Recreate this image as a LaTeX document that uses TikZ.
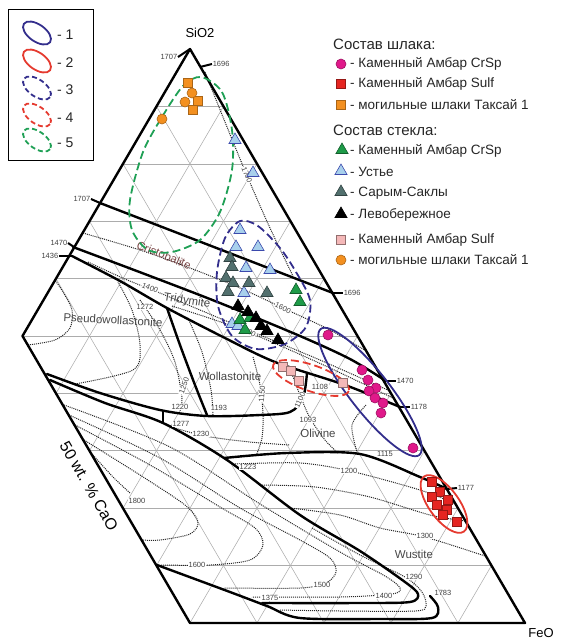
\documentclass[tikz,border=0pt]{standalone}
\usepackage{fontspec}
\setmainfont{Liberation Sans}
\usetikzlibrary{shapes.geometric}

\definecolor{ellblue}{HTML}{332E8C}
\definecolor{ellred}{HTML}{E53A2F}
\definecolor{ellgreen}{HTML}{1FA055}
\definecolor{crspmag}{HTML}{E0198A}
\definecolor{sulfred}{HTML}{E52521}
\definecolor{taksor}{HTML}{F39020}
\definecolor{glgreen}{HTML}{1E9B48}
\definecolor{ustblue}{HTML}{A8D0EC}
\definecolor{sarslate}{HTML}{52706E}
\definecolor{sulfpink}{HTML}{F4B8B8}
\definecolor{cristo}{HTML}{7A4646}

\def\fsz#1{\fontsize{#1}{#1}\selectfont}

\tikzset{
	gridline/.style={gray!65,line width=0.55pt},
	bound/.style={line width=2.4pt,line join=round,line cap=round},
	iso/.style={densely dotted,line width=1pt,black!85},
	numtick/.style={line width=2pt},
	num/.style={font=\fsz{7.5},text=black!75,inner sep=0.6pt,fill=white},
	phase/.style={font=\fsz{11.5},text=black!72,inner sep=1pt},
	legtext/.style={font=\fsz{13.5},text=black!85,anchor=west,inner sep=0pt},
	legtitle/.style={font=\fsz{15},text=black!85,anchor=west,inner sep=0pt},
	mk/.style={inner sep=0pt,line width=0.6pt},
	mgc/.style={mk,circle,minimum size=10pt,fill=crspmag,draw=crspmag!70!black},
	rsq/.style={mk,rectangle,minimum size=9.5pt,fill=sulfred,draw=sulfred!65!black},
	osq/.style={mk,rectangle,minimum size=9.5pt,fill=taksor,draw=taksor!70!black},
	ocirc/.style={mk,circle,minimum size=10pt,fill=taksor,draw=taksor!70!black},
	pksq/.style={mk,rectangle,minimum size=9.5pt,fill=sulfpink,draw=sulfpink!60!black},
	tri/.style={mk,regular polygon,regular polygon sides=3,minimum size=14pt},
	gtri/.style={tri,fill=glgreen,draw=glgreen!60!black},
	btri/.style={tri,fill=ustblue,draw=ustblue!50!blue!70!black},
	stri/.style={tri,fill=sarslate,draw=sarslate!60!black},
	ktri/.style={tri,fill=black,draw=black},
	ellsolid/.style={line width=1.8pt},
	elldash/.style={line width=1.8pt,dash pattern=on 8pt off 4pt},
	legdash/.style={line width=1.8pt,dash pattern=on 5pt off 3pt}
}

\begin{document}
\begin{tikzpicture}[x=1pt,y=-1pt]
	\useasboundingbox (0,0) rectangle (561,641);
	%CORNERS
	\coordinate (A) at (190,49);
	\coordinate (B) at (525,623);
	\coordinate (C) at (-145,623);
	\coordinate (BC) at (barycentric cs:B=1,C=1);
	\coordinate (L) at (barycentric cs:A=1,C=1);
	
	%GRID
	\begin{scope}
		\clip (A) -- (B) -- (BC) -- (L) -- cycle;
		\foreach \i [evaluate=\i as \j using int(10-\i)] in {1,...,9} {
			\draw[gridline] (barycentric cs:A=\i,B=\j) -- (barycentric cs:A=\i,C=\j);
			\draw[gridline] (barycentric cs:B=\i,A=\j) -- (barycentric cs:B=\i,C=\j);
			\draw[gridline] (barycentric cs:C=\i,A=\j) -- (barycentric cs:C=\i,B=\j);
		}
	\end{scope}
	
	%ISOTHERMS
	\draw[iso] plot[smooth] coordinates {(205,72) (225,122) (248,178) (270,228) (293,276)};
	\draw[iso] plot[smooth] coordinates {(83,233) (140,250) (190,268) (240,288) (283,308) (330,330) (368,352)};
	\draw[iso] plot[smooth] coordinates {(88,262) (125,279) (160,293) (200,310) (260,335) (320,360) (390,391)};
	\draw[iso] plot[smooth] coordinates {(172,306) (215,320) (248,332) (290,350) (330,368) (395,399)};
	\draw[iso] plot[smooth] coordinates {(28,345) (55,340) (70,328) (72,310) (63,292) (55,280)};
	\draw[iso] plot[smooth] coordinates {(75,384) (133,370) (140,345) (132,310) (118,282)};
	\draw[iso] plot[smooth] coordinates {(140,300) (160,330) (175,362) (182,398) (180,411)};
	\draw[iso] plot[smooth] coordinates {(188,318) (202,352) (211,390) (213,415)};
	\draw[iso] plot[smooth] coordinates {(253,357) (260,385) (263,414) (262,438) (256,456)};
	\draw[iso] plot[smooth] coordinates {(292,374) (300,395) (310,418) (325,440) (338,453)};
	\draw[iso] plot[smooth] coordinates {(366,405) (352,425) (357,452)};
	\draw[iso] plot[smooth] coordinates {(168,426) (205,436) (250,442) (290,445)};
	\draw[iso] plot[smooth] coordinates {(235,464) (300,463) (350,471) (420,490) (456,504)};
	\draw[iso] plot[smooth] coordinates {(262,485) (315,487) (370,497) (430,515) (465,521)};
	\draw[iso] plot[smooth] coordinates {(290,508) (340,515) (380,528) (425,537) (485,556)};
	\draw[iso] plot[smooth] coordinates {(312,528) (360,555) (405,577) (422,592) (426,606) (415,611) (340,611) (280,610)};
	\draw[iso] plot[smooth] coordinates {(93,455) (113,477) (130,493)};
	\draw[iso] plot[smooth] coordinates {(84,440) (140,475) (185,505) (198,522) (190,534) (160,540) (142,540)};
	\draw[iso] plot[smooth] coordinates {(75,425) (150,465) (220,507) (255,528) (263,545) (250,560) (210,565) (160,565)};
	\draw[iso] plot[smooth] coordinates {(69,415) (160,458) (240,508) (300,540) (330,558) (336,572) (326,583) (300,588) (224,588)};
	\draw[iso] plot[smooth] coordinates {(64,405) (170,447) (260,504) (340,552) (385,576) (400,588) (392,594) (340,597) (252,597)};
	
	%BOUNDARIES
	\draw[bound] (A) -- (B) -- (BC) -- (L) -- cycle;
	\draw[bound] (100,203) -- (333,293);
	\draw[bound] plot[smooth] coordinates {(73,247) (150,276) (220,303) (300,336) (350,359) (386,381)};
	\draw[bound] plot[smooth] coordinates {(72,256) (120,281) (167,308) (225,338) (275,362) (345,385) (400,407)};
	\draw[bound] plot[smooth] coordinates {(167,308) (180,345) (195,385) (207,415)};
	\draw[bound] plot[smooth] coordinates {(47,374) (100,393) (160,410) (207,416) (260,415) (290,412) (303,398) (307,373)};
	\draw[bound] (163,411) -- (163,423);
	\draw[bound] plot[smooth] coordinates {(50,380) (105,403) (163,423) (227,460) (300,515) (360,551) (405,582) (418,594) (410,602) (360,603) (262,603)};
	\draw[bound] plot[smooth] coordinates {(224,458) (287,453) (360,454) (420,477) (447,489)};
	\draw[bound] plot[smooth] coordinates {(157,565) (230,592) (267,606) (300,618) (380,619) (432,618) (438,607) (430,596)};
	
	%TICKS
	\coordinate (eA) at (A);
	\coordinate (eTop) at (200,67);
	\coordinate (e1707) at (100,203);
	\coordinate (e1470) at (74,247);
	\coordinate (e1436) at (72,256);
	\coordinate (e1696) at (333,293);
	\coordinate (e1470r) at (386,381);
	\coordinate (e1178) at (400,407);
	\coordinate (e1177) at (447,489);
	\node[num,anchor=east,fill=none] (t1707a) at (178,57) {1707};
	\node[num,anchor=west,fill=none] (t1696a) at (212,64) {1696};
	\node[num,anchor=east,fill=none] (t1707) at (91,199) {1707};
	\node[num,anchor=east,fill=none] (t1470) at (68,243) {1470};
	\node[num,anchor=east,fill=none] (t1436) at (59,256) {1436};
	\node[num,anchor=west,fill=none] (t1696) at (343,293) {1696};
	\node[num,anchor=west,fill=none] (t1470r) at (396,381) {1470};
	\node[num,anchor=west,fill=none] (t1178) at (410,407) {1178};
	\node[num,anchor=west,fill=none] (t1177) at (457,488) {1177};
	\draw[numtick] (t1707a.east) -- (eA);
	\draw[numtick] (eTop) -- (t1696a.west);
	\draw[numtick] (t1707.east) -- (e1707);
	\draw[numtick] (t1470.east) -- (e1470);
	\draw[numtick] (t1436.east) -- (e1436);
	\draw[numtick] (e1696) -- (t1696.west);
	\draw[numtick] (e1470r) -- (t1470r.west);
	\draw[numtick] (e1178) -- (t1178.west);
	\draw[numtick] (e1177) -- (t1177.west);
	
	%ISOTHERM LABELS
	\node[num,rotate=-68] (i1700) at (247,175) {1700};
	\node[num,rotate=-25] (i1600a) at (283,308) {1600};
	\node[num,rotate=-22] (i1400a) at (150,288) {1400};
	\node[num] (i1272) at (145,307) {1272};
	\node[num,rotate=-28] (i1200a) at (248,331) {1200};
	\node[num,rotate=70] (i1250) at (184,386) {1250};
	\node[num,rotate=85] (i1150) at (262,394) {1150};
	\node[num,rotate=65] (i1100) at (300,400) {1100};
	\node[num] (i1108) at (320,387) {1108};
	\node[num] (i1220) at (180,407) {1220};
	\node[num] (i1193) at (219,408) {1193};
	\node[num] (i1277) at (181,424) {1277};
	\node[num] (i1230) at (201,434) {1230};
	\node[num] (i1093) at (308,420) {1093};
	\node[num] (i1115) at (385,454) {1115};
	\node[num] (i1223) at (248,467) {1223};
	\node[num] (i1200b) at (349,471) {1200};
	\node[num] (i1800) at (137,501) {1800};
	\node[num] (i1600b) at (197,565) {1600};
	\node[num] (i1300) at (425,536) {1300};
	\node[num] (i1290) at (414,577) {1290};
	\node[num] (i1500) at (322,585) {1500};
	\node[num] (i1400b) at (384,596) {1400};
	\node[num] (i1375) at (270,598) {1375};
	\node[num,fill=none] (i1783) at (443,593) {1783};
	
	%PHASES
	\node[phase,rotate=-22,text=cristo] (cristob) at (164,255) {Cristobalite};
	\node[phase,rotate=-9] (tridy) at (187,301) {Tridymite};
	\node[phase,rotate=-3] (pseudo) at (113,320) {Pseudowollastonite};
	\node[phase] (wolla) at (230,376) {Wollastonite};
	\node[phase] (olivi) at (318,433) {Olivine};
	\node[phase] (wusti) at (414,554) {Wustite};
	
	%ELLIPSES
	\draw[elldash,ellgreen] plot[smooth cycle] coordinates {(201,77) (222,92) (232,130) (232,170) (220,212) (200,240) (172,252) (148,250) (132,230) (130,200) (143,152) (162,117) (183,86)};
	\draw[elldash,ellblue] plot[smooth cycle] coordinates {(240,221) (258,226) (280,248) (296,272) (310,300) (306,327) (285,344) (256,349) (232,336) (218,306) (217,272) (225,238)};
	\draw[ellsolid,ellblue] (370,392) circle[x radius=80,y radius=20,rotate=-52];
	\draw[elldash,ellred] (311,378) circle[x radius=40,y radius=13,rotate=-19];
	\draw[ellsolid,ellred] (444,504) circle[x radius=34,y radius=15,rotate=-54];
	
	%POINTS
	\foreach \p [count=\k] in {(188,83),(198,101),(193,110)} \node[osq] (os\k) at \p {};
	\foreach \p [count=\k] in {(192,93),(185,102),(162,119)} \node[ocirc] (oc\k) at \p {};
	\foreach \p [count=\k] in {(235,140),(253,173),(240,230),(236,247),(258,247),(246,268),(270,270),(244,293),(232,324),(238,326)} \node[btri] (bt\k) at \p {};
	\foreach \p [count=\k] in {(230,258),(232,267),(226,278),(233,283),(249,283),(228,292),(267,293)} \node[stri] (st\k) at \p {};
	\foreach \p [count=\k] in {(296,290),(300,302),(240,320),(245,330),(250,318)} \node[gtri] (gt\k) at \p {};
	\foreach \p [count=\k] in {(238,306),(248,312),(256,318),(261,326),(267,331),(278,340)} \node[ktri] (kt\k) at \p {};
	\foreach \p [count=\k] in {(328,335),(362,370),(368,380),(376,388),(369,391),(375,398),(383,403),(381,413),(413,448)} \node[mgc] (mc\k) at \p {};
	\foreach \p [count=\k] in {(283,367),(291,371),(299,381),(343,383)} \node[pksq] (ps\k) at \p {};
	\foreach \p [count=\k] in {(432,482),(440,492),(432,497),(437,505),(448,500),(447,510),(443,515),(457,522)} \node[rsq] (rs\k) at \p {};
	
	%AXIS LABELS
	\node[font=\fsz{13}] (sio2) at (200,33) {SiO2};
	\node[font=\fsz{13}] (feo) at (541,633) {FeO};
	\node[font=\fsz{16},rotate=-60] (cao) at (89,486) {50 wt. \% CaO};
	
	%LEGEND LEFT
	\draw[line width=0.8pt] (8,9) rectangle (93,160);
	\draw[ellsolid,ellblue] (37,33) circle[x radius=16,y radius=8.5,rotate=-35];
	\draw[ellsolid,ellred] (37,61) circle[x radius=16,y radius=8.5,rotate=-35];
	\draw[legdash,ellblue] (37,88) circle[x radius=16,y radius=8.5,rotate=-35];
	\draw[legdash,ellred] (37,115) circle[x radius=16,y radius=8.5,rotate=-35];
	\draw[legdash,ellgreen] (37,140) circle[x radius=16,y radius=8.5,rotate=-35];
	\foreach \y [count=\k] in {35,63,90,118,143} \node[legtext,font=\fsz{14}] (le\k) at (57,\y) {- \k};
	
	%LEGEND RIGHT
	\node[legtitle] (slag) at (333,44) {Состав шлака:};
	\node[mgc] (lm1) at (341,64) {};
	\node[legtext] (lt1) at (350,64) {- Каменный Амбар CrSp};
	\node[rsq] (lm2) at (341,84) {};
	\node[legtext] (lt2) at (350,84) {- Каменный Амбар Sulf};
	\node[osq] (lm3) at (341,105) {};
	\node[legtext] (lt3) at (350,105) {- могильные шлаки Таксай 1};
	\node[legtitle] (glass) at (333,130) {Состав стекла:};
	\node[gtri] (lm4) at (342,150) {};
	\node[legtext] (lt4) at (350,151) {- Каменный Амбар CrSp};
	\node[btri] (lm5) at (341,171) {};
	\node[legtext] (lt5) at (350,172) {- Устье};
	\node[stri] (lm6) at (341,192) {};
	\node[legtext] (lt6) at (350,193) {- Сарым-Саклы};
	\node[ktri] (lm7) at (341,214) {};
	\node[legtext] (lt7) at (350,215) {- Левобережное};
	\node[pksq] (lm8) at (341,240) {};
	\node[legtext] (lt8) at (350,240) {- Каменный Амбар Sulf};
	\node[ocirc] (lm9) at (341,260) {};
	\node[legtext] (lt9) at (350,260) {- могильные шлаки Таксай 1};
\end{tikzpicture}
\end{document}
